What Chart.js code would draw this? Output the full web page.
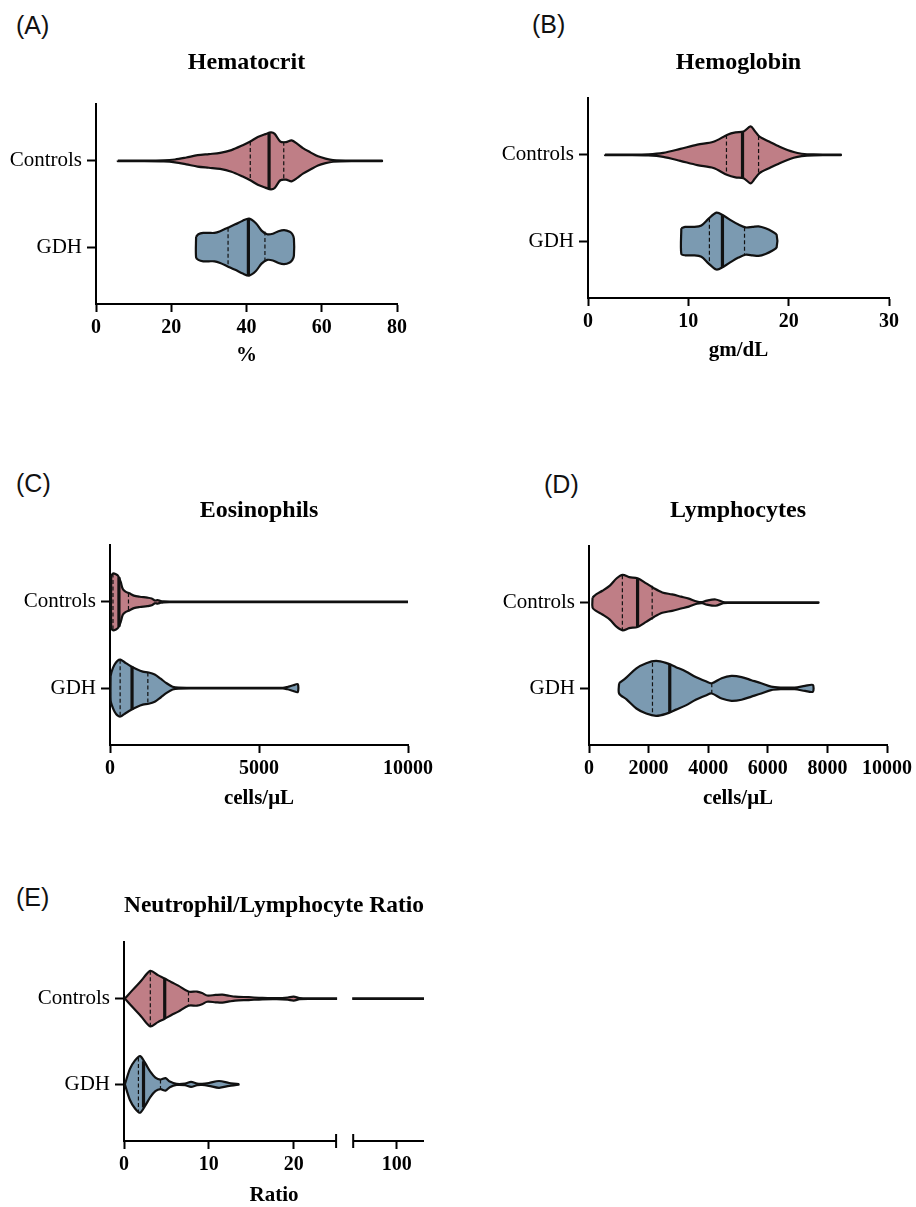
<!DOCTYPE html>
<html>
<head>
<meta charset="utf-8">
<script src="https://cdn.jsdelivr.net/npm/chart.js@4.4.1/dist/chart.umd.min.js"></script>
<style>
  html, body { margin: 0; padding: 0; background: #fff; }
  #page { position: relative; width: 916px; height: 1207px; overflow: hidden; }
  canvas { position: absolute; }
  .tag { position: absolute; font: 25px 'Liberation Sans', Arial, sans-serif; line-height: 30px; color: #111; }
</style>
</head>
<body>
<div id="page">
  <div class="tag" style="left:16px;top:10px">(A)</div>
  <div class="tag" style="left:532px;top:9px">(B)</div>
  <div class="tag" style="left:16px;top:468px">(C)</div>
  <div class="tag" style="left:544px;top:469px">(D)</div>
  <div class="tag" style="left:16px;top:882px">(E)</div>
  <canvas id="cA"></canvas>
  <canvas id="cB"></canvas>
  <canvas id="cC"></canvas>
  <canvas id="cD"></canvas>
  <canvas id="cE"></canvas>
</div>
<script>
const groups = ['Controls', 'GDH'];

// (A) Hematocrit, %  -- x grid, relative violin width, quartiles and width at them
const hctTicks = [0, 20, 40, 60, 80];
const hctCtrlX = [5.8, 12, 18, 21, 24, 27, 30, 33, 36, 39, 41, 43, 45, 46.5, 47.5, 49, 50.5, 52, 53.5, 55, 57, 59, 61, 63, 68, 76];
const hctCtrlW = [0.01, 0.01, 0.02, 0.05, 0.12, 0.2, 0.24, 0.28, 0.38, 0.55, 0.68, 0.84, 0.94, 1.0, 0.95, 0.68, 0.66, 0.72, 0.6, 0.45, 0.3, 0.16, 0.08, 0.03, 0.01, 0.01];
const hctCtrlQ = [41.0, 46.0, 49.9];
const hctCtrlQW = [0.68, 0.97, 0.67];
const hctGdhX = [26.6, 27.2, 28.5, 30, 31.5, 33, 35, 37, 39, 40.7, 42.5, 44, 45.5, 47, 48.5, 50, 51.5, 52.2, 52.6];
const hctGdhW = [0.36, 0.45, 0.5, 0.5, 0.5, 0.56, 0.68, 0.8, 0.93, 1.0, 0.84, 0.58, 0.45, 0.47, 0.56, 0.6, 0.54, 0.45, 0.3];
const hctGdhQ = [35.1, 40.5, 44.9];
const hctGdhQW = [0.68, 1.0, 0.55];

// (B) Hemoglobin, gm/dL
const hgbTicks = [0, 10, 20, 30];
const hgbCtrlX = [1.7, 4, 6, 7.5, 9.2, 10.9, 12.5, 13.9, 14.7, 15.5, 16.2, 16.6, 17.1, 18.1, 19.1, 20.5, 21.3, 22.5, 25.2];
const hgbCtrlW = [0.01, 0.01, 0.02, 0.07, 0.21, 0.36, 0.46, 0.71, 0.79, 0.82, 1.0, 0.85, 0.64, 0.46, 0.29, 0.1, 0.04, 0.015, 0.01];
const hgbCtrlQ = [13.8, 15.4, 17.0];
const hgbCtrlQW = [0.7, 0.82, 0.66];
const hgbGdhX = [9.3, 9.7, 10.5, 11.3, 12.0, 12.8, 13.5, 14.3, 15.0, 15.7, 16.4, 17.0, 17.7, 18.4, 18.8];
const hgbGdhW = [0.45, 0.5, 0.5, 0.55, 0.78, 1.0, 0.9, 0.72, 0.58, 0.48, 0.5, 0.52, 0.45, 0.33, 0.22];
const hgbGdhQ = [12.1, 13.4, 15.6];
const hgbGdhQW = [0.8, 0.93, 0.49];

// (C) Eosinophils, cells/uL
const eosTicks = [0, 5000, 10000];
const eosCtrlX = [40, 100, 200, 280, 360, 430, 520, 650, 800, 1000, 1250, 1400, 1500, 1600, 1700, 1800, 2000, 2500, 3000, 10000];
const eosCtrlW = [0.9, 1.0, 0.97, 0.9, 0.7, 0.45, 0.36, 0.3, 0.22, 0.18, 0.15, 0.12, 0.05, 0.06, 0.03, 0.015, 0.01, 0.01, 0.01, 0.01];
const eosCtrlQ = [100, 300, 620];
const eosCtrlQW = [1.0, 0.87, 0.31];
const eosGdhX = [20, 60, 150, 250, 350, 500, 700, 900, 1100, 1300, 1500, 1700, 1900, 2100, 2300, 3000, 4000, 5000, 5800, 5950, 6150, 6300];
const eosGdhW = [0.42, 0.6, 0.82, 0.96, 1.0, 0.9, 0.77, 0.66, 0.58, 0.55, 0.48, 0.33, 0.17, 0.05, 0.015, 0.01, 0.01, 0.01, 0.01, 0.04, 0.1, 0.14];
const eosGdhQ = [340, 740, 1270];
const eosGdhQW = [1.0, 0.76, 0.55];

// (D) Lymphocytes, cells/uL
const lymTicks = [0, 2000, 4000, 6000, 8000, 10000];
const lymCtrlX = [120, 250, 450, 700, 930, 1130, 1350, 1630, 1920, 2190, 2460, 2790, 3090, 3350, 3620, 3800, 3950, 4250, 4500, 4700, 5500, 7700];
const lymCtrlW = [0.18, 0.3, 0.42, 0.6, 0.86, 0.98, 0.9, 0.86, 0.68, 0.5, 0.36, 0.29, 0.21, 0.14, 0.04, 0.02, 0.07, 0.11, 0.02, 0.01, 0.01, 0.01];
const lymCtrlQ = [1120, 1630, 2120];
const lymCtrlQW = [0.97, 0.86, 0.6];
const lymGdhX = [1010, 1260, 1590, 1920, 2250, 2580, 2920, 3250, 3580, 3920, 4120, 4450, 4780, 5120, 5450, 5780, 6110, 6450, 6900, 7250, 7510];
const lymGdhW = [0.18, 0.39, 0.71, 0.89, 0.97, 0.9, 0.75, 0.6, 0.4, 0.25, 0.18, 0.36, 0.44, 0.4, 0.29, 0.18, 0.06, 0.03, 0.03, 0.09, 0.12];
const lymGdhQ = [2130, 2710, 4120];
const lymGdhQW = [0.91, 0.87, 0.18];

// (E) Neutrophil/Lymphocyte ratio, broken x axis
const nlrTicks = [0, 10, 20, 100];
const nlrBreak = [25, 92];
const nlrCtrlX = [0.1, 1, 2, 3.1, 4, 4.8, 5.6, 6.4, 7.6, 8.6, 9.2, 9.8, 10.8, 11.6, 12.4, 13.1, 14.7, 16.3, 18, 19.3, 20.0, 20.7, 22, 24, 100, 105];
const nlrCtrlW = [0, 0.3, 0.62, 0.98, 0.83, 0.71, 0.58, 0.46, 0.25, 0.25, 0.2, 0.11, 0.13, 0.14, 0.1, 0.07, 0.05, 0.025, 0.02, 0.04, 0.07, 0.02, 0.01, 0.01, 0.01, 0.01];
const nlrCtrlQ = [3.1, 4.8, 7.6];
const nlrCtrlQW = [0.98, 0.71, 0.25];
const nlrGdhX = [0.1, 0.7, 1.3, 1.9, 2.5, 3.1, 3.7, 4.3, 4.9, 5.4, 6.2, 7.2, 7.9, 8.6, 9.2, 10.0, 11.2, 12.4, 13.5];
const nlrGdhW = [0, 0.55, 0.85, 1.0, 0.75, 0.45, 0.24, 0.17, 0.22, 0.1, 0.02, 0.03, 0.09, 0.03, 0.02, 0.05, 0.12, 0.05, 0.01];
const nlrGdhQ = [1.7, 2.3, 4.3];
const nlrGdhQW = [0.95, 0.82, 0.17];

const SERIF = "'Liberation Serif', 'Times New Roman', serif";
const HALF = 0.33;
const fills = ['#BF7E86', '#7B9AB1'];

// x scale with a gap between nlrBreak[0] and nlrBreak[1]
class BrokenScale extends Chart.LinearScale {
  segs() {
    const w = this.right - this.left;
    const w1 = w * 0.707, g = w * 0.057;
    return { w1, g, w2: w - w1 - g };
  }
  getPixelForValue(v) {
    if (v === null || v === undefined || isNaN(v)) return NaN;
    const { w1, g, w2 } = this.segs();
    if (v <= nlrBreak[0]) return this.left + (v - this.min) / (nlrBreak[0] - this.min) * w1;
    if (v >= nlrBreak[1]) return this.left + w1 + g + (v - nlrBreak[1]) / (this.max - nlrBreak[1]) * w2;
    return this.left + w1 + g / 2;
  }
  getValueForPixel(p) {
    const { w1, g, w2 } = this.segs();
    const d = p - this.left;
    if (d <= w1) return this.min + d / w1 * (nlrBreak[0] - this.min);
    return nlrBreak[1] + (d - w1 - g) / w2 * (this.max - nlrBreak[1]);
  }
  drawBorder() {
    const ctx = this.ctx;
    const y = Math.round(this.top);
    const { w1, g } = this.segs();
    const b1 = this.left + w1, b2 = b1 + g;
    ctx.save();
    ctx.strokeStyle = '#000';
    ctx.lineWidth = 2;
    ctx.beginPath();
    ctx.moveTo(this.left - 1, y); ctx.lineTo(b1, y);
    ctx.moveTo(b2, y); ctx.lineTo(this.right, y);
    ctx.moveTo(b1, y - 7); ctx.lineTo(b1, y + 7);
    ctx.moveTo(b2, y - 7); ctx.lineTo(b2, y + 7);
    ctx.stroke();
    ctx.restore();
  }
}
BrokenScale.id = 'broken';
BrokenScale.defaults = Chart.LinearScale.defaults;
Chart.register(BrokenScale);

// keep the marks out of the axis gap
const breakClip = {
  id: 'breakClip',
  beforeDatasetsDraw(chart) {
    const s = chart.scales.x, a = chart.chartArea, ctx = chart.ctx;
    const b1 = s.getPixelForValue(nlrBreak[0]), b2 = s.getPixelForValue(nlrBreak[1]);
    ctx.save();
    ctx.beginPath();
    ctx.rect(a.left - 5, a.top - 5, b1 - a.left + 6, a.height + 10);
    ctx.rect(b2 - 1, a.top - 5, a.right - b2 + 6, a.height + 10);
    ctx.clip();
  },
  afterDatasetsDraw(chart) { chart.ctx.restore(); }
};

function violin(center, xs, ws, qs, qws, color) {
  const top = xs.map((x, i) => ({ x, y: center - ws[i] * HALF }));
  const bottom = xs.map((x, i) => ({ x, y: center + ws[i] * HALF })).reverse();
  const loop = top.concat(bottom);
  if (ws[0] > 0) loop.push(top[0]);
  const sets = [{
    data: loop, fill: 'shape', backgroundColor: color, borderColor: '#111',
    borderWidth: 2.2, borderJoinStyle: 'round', tension: 0.3, pointRadius: 0, order: 2
  }];
  qs.forEach((q, i) => sets.push({
    data: [{ x: q, y: center - qws[i] * HALF }, { x: q, y: center + qws[i] * HALF }],
    borderColor: '#111', borderWidth: i === 1 ? 3.2 : 1.2, borderDash: i === 1 ? [] : [4, 2.5],
    tension: 0, pointRadius: 0, fill: false, order: 1
  }));
  return sets;
}

function makePanel(cfg) {
  const canvas = document.getElementById(cfg.canvas);
  const top = Math.round(cfg.titleY - 14.4);
  const xh = Math.round(cfg.xTitleY - cfg.plot.b + 12.6);
  const padR = 26;
  canvas.width = cfg.plot.r - cfg.x0 + padR;
  canvas.height = cfg.plot.b - top + xh;
  canvas.style.left = cfg.x0 + 'px';
  canvas.style.top = top + 'px';
  const yw = cfg.plot.l - cfg.x0;

  const datasets = [].concat(
    violin(1, cfg.ctrl[0], cfg.ctrl[1], cfg.ctrl[2], cfg.ctrl[3], fills[0]),
    violin(2, cfg.gdh[0], cfg.gdh[1], cfg.gdh[2], cfg.gdh[3], fills[1])
  );

  new Chart(canvas, {
    type: 'line',
    data: { datasets },
    options: {
      responsive: false,
      animation: false,
      events: [],
      layout: { padding: { left: 0, top: 0, right: padR, bottom: 0 } },
      plugins: {
        legend: { display: false },
        tooltip: { enabled: false },
        title: {
          display: true, text: cfg.title, fullSize: false, color: '#000',
          font: { family: SERIF, size: 24, weight: 'bold' },
          padding: { top: 0, bottom: cfg.plot.t - top - 28.8 }
        }
      },
      scales: {
        x: {
          type: cfg.xType || 'linear',
          min: 0, max: cfg.xMax, bounds: 'data',
          afterBuildTicks: s => { s.ticks = cfg.ticks.map(v => ({ value: v })); },
          afterFit: s => { s.height = xh; },
          ticks: {
            callback: v => String(v), color: '#000', padding: 4, autoSkip: false, maxRotation: 0,
            font: { family: SERIF, size: 20, weight: 'bold' }
          },
          grid: { drawOnChartArea: false, tickLength: 8, tickWidth: 2, tickColor: '#000' },
          border: { color: '#000', width: 2 },
          title: {
            display: true, text: cfg.xTitle, color: '#000', padding: 0,
            font: { family: SERIF, size: 21, weight: 'bold' }
          }
        },
        y: {
          type: 'linear', reverse: true, min: 0.34, max: 2.66, bounds: 'data',
          afterBuildTicks: s => { s.ticks = groups.map((g, i) => ({ value: i + 1 })); },
          afterFit: s => { s.width = yw; },
          ticks: {
            callback: v => groups[v - 1], color: '#000', padding: 5,
            font: { family: SERIF, size: 21 }
          },
          grid: { drawOnChartArea: false, tickLength: 9, tickWidth: 2, tickColor: '#000' },
          border: { color: '#000', width: 2 }
        }
      }
    },
    plugins: cfg.plugins || []
  });
}

makePanel({
  canvas: 'cA', title: 'Hematocrit', xTitle: '%', x0: 0,
  plot: { l: 96, t: 104, r: 397, b: 304 }, titleY: 62, xTitleY: 355,
  xMax: 80, ticks: hctTicks,
  ctrl: [hctCtrlX, hctCtrlW, hctCtrlQ, hctCtrlQW], gdh: [hctGdhX, hctGdhW, hctGdhQ, hctGdhQW]
});
makePanel({
  canvas: 'cB', title: 'Hemoglobin', xTitle: 'gm/dL', x0: 450,
  plot: { l: 588, t: 98, r: 889, b: 298 }, titleY: 62, xTitleY: 350,
  xMax: 30, ticks: hgbTicks,
  ctrl: [hgbCtrlX, hgbCtrlW, hgbCtrlQ, hgbCtrlQW], gdh: [hgbGdhX, hgbGdhW, hgbGdhQ, hgbGdhQW]
});
makePanel({
  canvas: 'cC', title: 'Eosinophils', xTitle: 'cells/\u03bcL', x0: 0,
  plot: { l: 110, t: 545, r: 411, b: 745 }, titleY: 510, xTitleY: 798,
  xMax: 10000, ticks: eosTicks,
  ctrl: [eosCtrlX, eosCtrlW, eosCtrlQ, eosCtrlQW], gdh: [eosGdhX, eosGdhW, eosGdhQ, eosGdhQW]
});
makePanel({
  canvas: 'cD', title: 'Lymphocytes', xTitle: 'cells/\u03bcL', x0: 450,
  plot: { l: 589, t: 546, r: 890, b: 745 }, titleY: 510, xTitleY: 798,
  xMax: 10000, ticks: lymTicks,
  ctrl: [lymCtrlX, lymCtrlW, lymCtrlQ, lymCtrlQW], gdh: [lymGdhX, lymGdhW, lymGdhQ, lymGdhQW]
});
makePanel({
  canvas: 'cE', title: 'Neutrophil/Lymphocyte Ratio', xTitle: 'Ratio', x0: 0,
  plot: { l: 124, t: 942, r: 424, b: 1141 }, titleY: 905, xTitleY: 1195,
  xType: 'broken', xMax: 105, ticks: nlrTicks, plugins: [breakClip],
  ctrl: [nlrCtrlX, nlrCtrlW, nlrCtrlQ, nlrCtrlQW], gdh: [nlrGdhX, nlrGdhW, nlrGdhQ, nlrGdhQW]
});
</script>
</body>
</html>
